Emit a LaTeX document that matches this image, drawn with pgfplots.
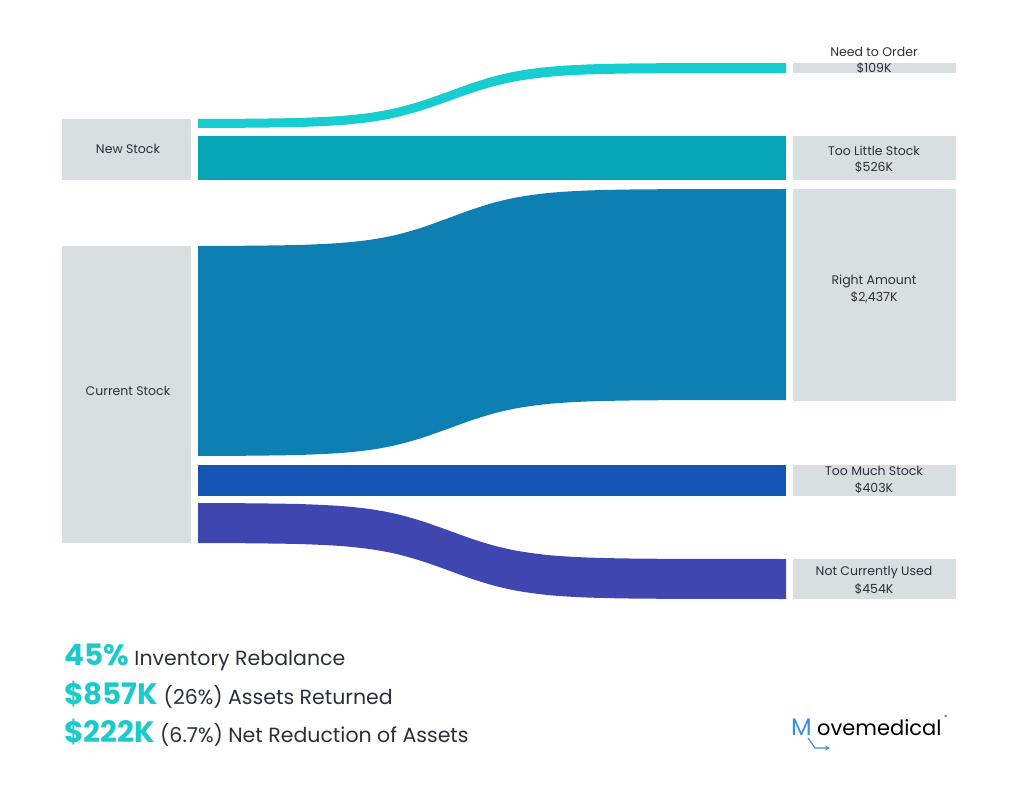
\documentclass[border=0pt]{standalone}
\usepackage{pgfplots}
\pgfplotsset{compat=1.18}
\usepgfplotslibrary{fillbetween}
\usepackage{fontspec}
\setmainfont{Poppins}

\definecolor{nodegray}{HTML}{D8DFE1}
\definecolor{txt}{HTML}{2B2F3A}
\definecolor{cNeed}{HTML}{17CDD0}
\definecolor{cLittle}{HTML}{06A6B8}
\definecolor{cRight}{HTML}{0E7FB2}
\definecolor{cMuch}{HTML}{1556B5}
\definecolor{cUnused}{HTML}{4046B0}
\definecolor{cBig}{HTML}{1DC9CB}
\definecolor{logoblue}{HTML}{3A8FE0}

\newcommand{\bignum}[1]{\textcolor{cBig}{\fontsize{29.5}{32}\selectfont\bfseries #1}}

\begin{document}
\begin{tikzpicture}
\begin{axis}[
    width=1024pt, height=807pt, scale only axis,
    xmin=0, xmax=1024, ymin=0, ymax=807,
    y dir=reverse,
    hide axis, clip=false,
]
% keep the full canvas in the bounding box
\path (rel axis cs:0,0) rectangle (rel axis cs:1,1);

% nodes (gray boxes), pixel coordinates
\addplot[fill=nodegray, draw=none] coordinates {(62,119) (191,119) (191,180) (62,180)} --cycle;
\addplot[fill=nodegray, draw=none] coordinates {(62,246) (191,246) (191,543) (62,543)} --cycle;
\addplot[fill=nodegray, draw=none] coordinates {(793,63) (956,63) (956,73) (793,73)} --cycle;
\addplot[fill=nodegray, draw=none] coordinates {(793,136) (956,136) (956,180) (793,180)} --cycle;
\addplot[fill=nodegray, draw=none] coordinates {(793,189) (956,189) (956,401) (793,401)} --cycle;
\addplot[fill=nodegray, draw=none] coordinates {(793,465) (956,465) (956,496) (793,496)} --cycle;
\addplot[fill=nodegray, draw=none] coordinates {(793,559) (956,559) (956,599) (793,599)} --cycle;

% straight flows
\addplot[fill=cLittle, draw=none] coordinates {(198,136) (786,136) (786,180) (198,180)} --cycle;
\addplot[fill=cMuch, draw=none] coordinates {(198,465) (786,465) (786,496) (198,496)} --cycle;

% curved flows: edges
\addplot[name path=needT, draw=none, smooth] coordinates {(198,119) (250,118.71) (300,117.94) (340,116.05) (370,112.92) (395,108.36) (420,101.5) (445,92.85) (470,83.8) (495,76.12) (520,70.67) (550,66.76) (585,64.57) (630,63.49) (690,63.11) (786,63)};
\addplot[name path=needB, draw=none, smooth] coordinates {(198,128) (250,127.71) (300,126.96) (340,125.11) (370,122.03) (395,117.55) (420,110.81) (445,102.31) (470,93.43) (495,85.89) (520,80.53) (550,76.7) (585,74.54) (630,73.48) (690,73.11) (786,73)};
\addplot[fill=cNeed, draw=none] fill between[of=needT and needB];

\addplot[name path=rightT, draw=none, smooth] coordinates {(198,246) (250,245.7) (300,244.92) (340,243.0) (370,239.81) (395,235.17) (420,228.19) (445,219.38) (470,210.18) (495,202.36) (520,196.81) (550,192.83) (585,190.6) (630,189.5) (690,189.11) (786,189)};
\addplot[name path=rightB, draw=none, smooth] coordinates {(198,456) (250,455.71) (300,454.94) (340,453.05) (370,449.92) (395,445.36) (420,438.5) (445,429.85) (470,420.8) (495,413.12) (520,407.67) (550,403.76) (585,401.57) (630,400.49) (690,400.11) (786,400)};
\addplot[fill=cRight, draw=none] fill between[of=rightT and rightB];

\addplot[name path=unT, draw=none, smooth] coordinates {(198,503) (250,503.29) (300,504.06) (340,505.95) (370,509.08) (395,513.64) (420,520.5) (445,529.15) (470,538.2) (495,545.88) (520,551.33) (550,555.24) (585,557.43) (630,558.51) (690,558.89) (786,559)};
\addplot[name path=unB, draw=none, smooth] coordinates {(198,543) (250,543.29) (300,544.06) (340,545.95) (370,549.08) (395,553.64) (420,560.5) (445,569.15) (470,578.2) (495,585.88) (520,591.33) (550,595.24) (585,597.43) (630,598.51) (690,598.89) (786,599)};
\addplot[fill=cUnused, draw=none] fill between[of=unT and unB];

% labels
\tikzset{lab/.style={font=\fontsize{12.5}{14}\selectfont, text=txt, inner sep=0pt}}
\node[lab] at (axis cs:128,149) {New Stock};
\node[lab] at (axis cs:128,391) {Current Stock};
\node[lab] at (axis cs:874,52) {Need to Order};
\node[lab] at (axis cs:874,68) {\$109K};
\node[lab] at (axis cs:874,151) {Too Little Stock};
\node[lab] at (axis cs:874,167) {\$526K};
\node[lab] at (axis cs:874,281) {Right Amount};
\node[lab] at (axis cs:874,297) {\$2,437K};
\node[lab] at (axis cs:874,471) {Too Much Stock};
\node[lab] at (axis cs:874,488) {\$403K};
\node[lab] at (axis cs:874,572) {Not Currently Used};
\node[lab] at (axis cs:874,589) {\$454K};

% summary text
\tikzset{sum/.style={anchor=base west, inner sep=0pt, text=txt, font=\fontsize{20.5}{23}\selectfont}}
\node[sum] at (axis cs:64,665) {\bignum{45\%} Inventory Rebalance};
\node[sum] at (axis cs:64,704) {\bignum{\$857K} (26\%) Assets Returned};
\node[sum] at (axis cs:64,742) {\bignum{\$222K} (6.7\%) Net Reduction of Assets};

% logo
\node[anchor=base west, inner sep=0pt, font=\fontsize{24}{26}\selectfont, text=logoblue] at (axis cs:791,735) {M};
\node[anchor=base west, inner sep=0pt, font=\fontsize{21}{24}\selectfont, text=black] at (axis cs:817,735) {ovemedical};
\node[inner sep=0pt, font=\fontsize{6}{7}\selectfont, text=black] at (axis cs:946,717) {\textregistered};
\draw[logoblue, line width=1.2pt, -stealth] (axis cs:808,738) -- (axis cs:815,748) -- (axis cs:830,748);
\end{axis}
\end{tikzpicture}
\end{document}
